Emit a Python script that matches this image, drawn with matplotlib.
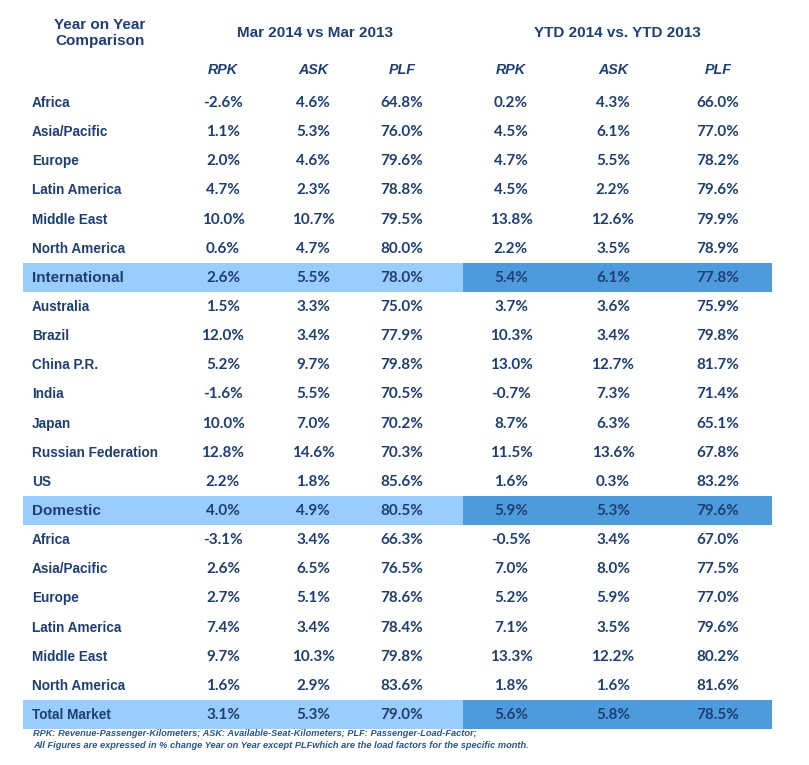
import matplotlib
matplotlib.use('Agg')
import matplotlib.pyplot as plt
from matplotlib.patches import Rectangle

regions = ['Africa', 'Asia/Pacific', 'Europe', 'Latin America', 'Middle East',
           'North America', 'International', 'Australia', 'Brazil', 'China P.R.',
           'India', 'Japan', 'Russian Federation', 'US', 'Domestic', 'Africa',
           'Asia/Pacific', 'Europe', 'Latin America', 'Middle East',
           'North America', 'Total Market']

mar_rpk = ['-2.6%', '1.1%', '2.0%', '4.7%', '10.0%', '0.6%', '2.6%', '1.5%',
           '12.0%', '5.2%', '-1.6%', '10.0%', '12.8%', '2.2%', '4.0%', '-3.1%',
           '2.6%', '2.7%', '7.4%', '9.7%', '1.6%', '3.1%']
mar_ask = ['4.6%', '5.3%', '4.6%', '2.3%', '10.7%', '4.7%', '5.5%', '3.3%',
           '3.4%', '9.7%', '5.5%', '7.0%', '14.6%', '1.8%', '4.9%', '3.4%',
           '6.5%', '5.1%', '3.4%', '10.3%', '2.9%', '5.3%']
mar_plf = ['64.8%', '76.0%', '79.6%', '78.8%', '79.5%', '80.0%', '78.0%', '75.0%',
           '77.9%', '79.8%', '70.5%', '70.2%', '70.3%', '85.6%', '80.5%', '66.3%',
           '76.5%', '78.6%', '78.4%', '79.8%', '83.6%', '79.0%']
ytd_rpk = ['0.2%', '4.5%', '4.7%', '4.5%', '13.8%', '2.2%', '5.4%', '3.7%',
           '10.3%', '13.0%', '-0.7%', '8.7%', '11.5%', '1.6%', '5.9%', '-0.5%',
           '7.0%', '5.2%', '7.1%', '13.3%', '1.8%', '5.6%']
ytd_ask = ['4.3%', '6.1%', '5.5%', '2.2%', '12.6%', '3.5%', '6.1%', '3.6%',
           '3.4%', '12.7%', '7.3%', '6.3%', '13.6%', '0.3%', '5.3%', '3.4%',
           '8.0%', '5.9%', '3.5%', '12.2%', '1.6%', '5.8%']
ytd_plf = ['66.0%', '77.0%', '78.2%', '79.6%', '79.9%', '78.9%', '77.8%', '75.9%',
           '79.8%', '81.7%', '71.4%', '65.1%', '67.8%', '83.2%', '79.6%', '67.0%',
           '77.5%', '77.0%', '79.6%', '80.2%', '81.6%', '78.5%']

sub_headers = ['RPK', 'ASK', 'PLF', 'RPK', 'ASK', 'PLF']
highlight = ['International', 'Domestic', 'Total Market']

columns = [mar_rpk, mar_ask, mar_plf, ytd_rpk, ytd_ask, ytd_plf]
col_x = [223, 313, 402, 511, 613, 718]

navy = '#1f3f73'
light = '#99ccff'
dark = '#4d9bdc'
label_font = ['Liberation Sans', 'DejaVu Sans']
num_font = ['Lato', 'DejaVu Sans']

fig = plt.figure(figsize=(8.09, 7.65), dpi=100)
ax = fig.add_axes([0, 0, 1, 1])
ax.set_xlim(0, 809)
ax.set_ylim(765, 0)
ax.axis('off')

# headers
ax.text(100, 33, 'Year on Year\nComparison', ha='center', va='center',
        fontsize=11, fontweight='bold', color=navy, family=label_font,
        linespacing=1.1)
ax.text(315, 33, 'Mar 2014 vs Mar 2013', ha='center', va='center',
        fontsize=11, fontweight='bold', color=navy, family=label_font)
ax.text(617, 33, 'YTD 2014 vs. YTD 2013', ha='center', va='center',
        fontsize=11, fontweight='bold', color=navy, family=label_font)
for x, h in zip(col_x, sub_headers):
    ax.text(x, 70, h, ha='center', va='center', fontsize=10.3,
            fontweight='bold', style='italic', color=navy, family=label_font)

y0, dy = 103, 29.14
for i, name in enumerate(regions):
    y = y0 + i * dy
    if name in highlight:
        ax.add_patch(Rectangle((23, y - 14.5), 440, 29, color=light, lw=0, zorder=0))
        ax.add_patch(Rectangle((463, y - 14.5), 309, 29, color=dark, lw=0, zorder=0))
    big = name in ('International', 'Domestic')
    ax.text(32, y, name, ha='left', va='center', fontsize=11 if big else 9.8,
            fontweight='bold', color=navy, family=label_font)
    for x, col in zip(col_x, columns):
        ax.text(x, y, col[i], ha='center', va='center', fontsize=11,
                fontweight='bold', color=navy, family=num_font)

ax.text(33, 734, 'RPK: Revenue-Passenger-Kilometers; ASK: Available-Seat-Kilometers; '
        'PLF: Passenger-Load-Factor;', ha='left', va='center', fontsize=6.7,
        fontweight='bold', style='italic', color='#2a5590', family=label_font)
ax.text(33, 746, 'All Figures are expressed in % change Year on Year except PLFwhich '
        'are the load factors for the specific month.', ha='left', va='center',
        fontsize=6.7, fontweight='bold', style='italic', color='#2a5590',
        family=label_font)

fig.savefig('out.png', dpi=100)
